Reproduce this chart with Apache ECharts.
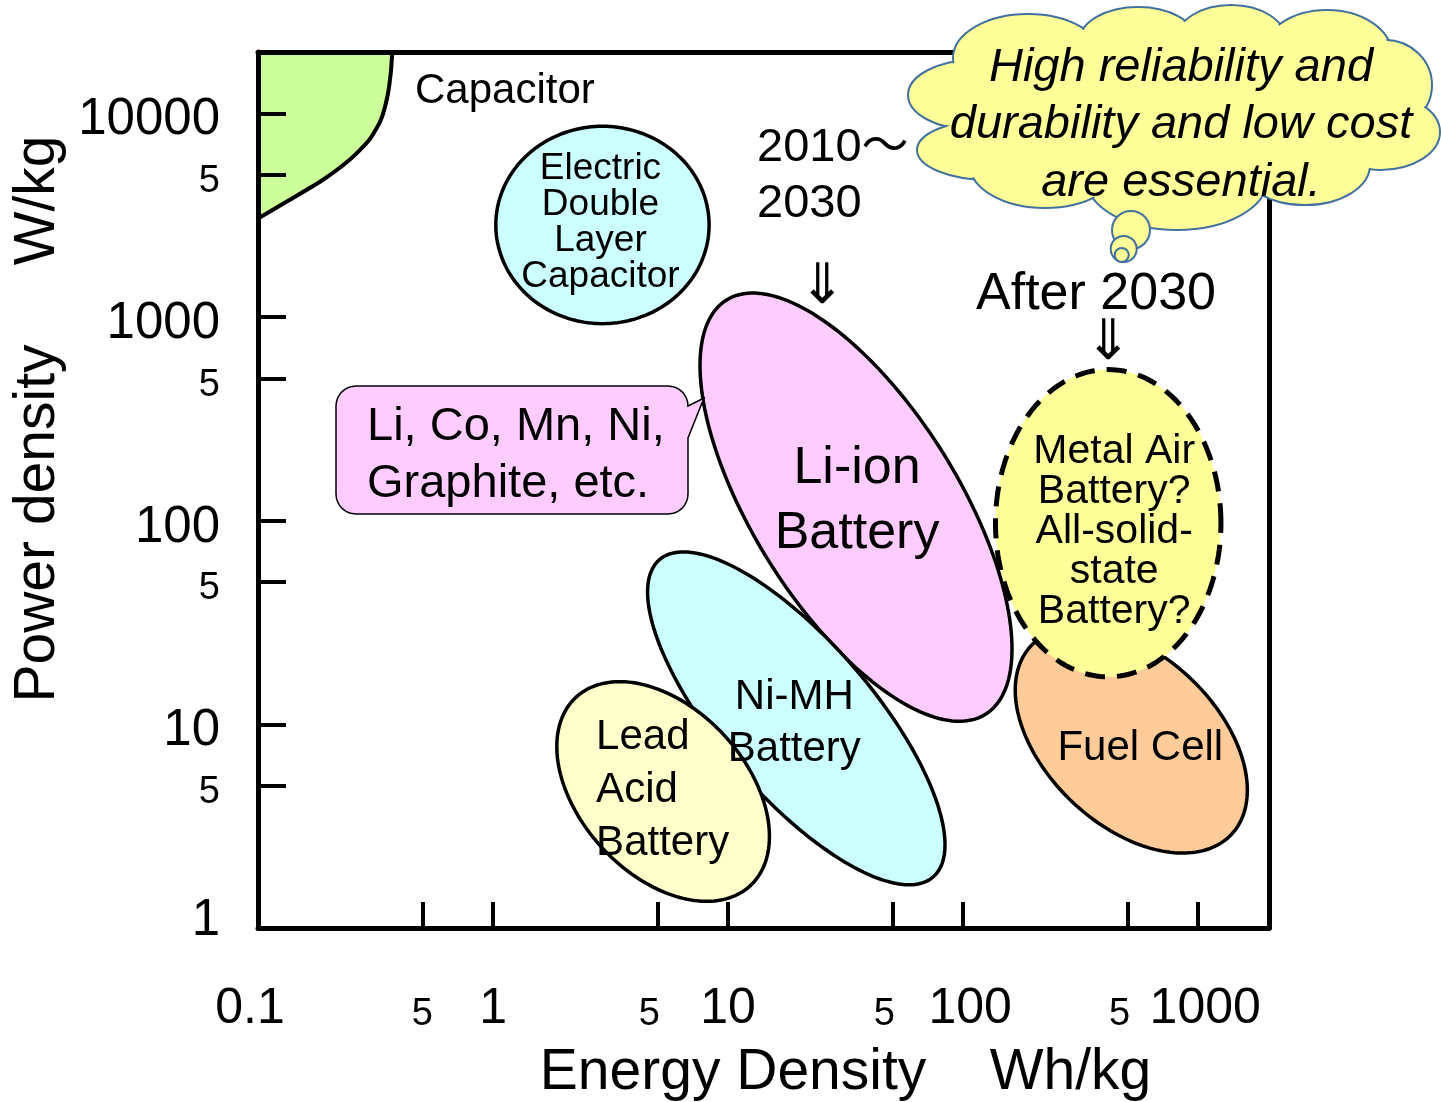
<!DOCTYPE html>
<html>
<head>
<meta charset="utf-8">
<title>Ragone plot</title>
<script src="https://cdn.jsdelivr.net/npm/echarts@6.0.0/dist/echarts.min.js"></script>
<style>
html,body{margin:0;padding:0;background:#ffffff;}
#chart{width:1441px;height:1102px;}
</style>
</head>
<body>
<div id="chart"></div>
<script>
// ---------------- data ----------------
const xTickValues = [0.1, 0.5, 1, 5, 10, 50, 100, 500, 1000];
const yTickValues = [1, 5, 10, 50, 100, 500, 1000, 5000, 10000];
const energyRange = [0.1, 2000];      // Wh/kg
const powerRange = [1, 20000];        // W/kg

const regionLabels = [
  'Electric\nDouble\nLayer\nCapacitor',
  'Li-ion\nBattery',
  'Ni-MH\nBattery',
  'Lead\nAcid\nBattery',
  'Fuel Cell',
  'Metal Air\nBattery?\nAll-solid-\nstate\nBattery?'
];
// centre of each region (energy, power)
const regionCenter = [[2.92, 2830], [35.0, 116.5], [19.5, 10.7], [5.29, 4.68], [519, 8.37], [414, 97.2]];
// end of the first half-axis of each region (energy, power)
const regionAxisEndA = [[8.30, 2830], [124.4, 11.2], [74.5, 1.78], [12.4, 1.61], [1384, 2.88], [1249, 97.2]];
// end of the second half-axis of each region (energy, power)
const regionAxisEndB = [[2.92, 8635], [82.1, 215], [34.5, 18.9], [9.63, 8.83], [922, 16.9], [414, 552]];

// capacitor boundary curve
const capacitorEnergy = [0.1, 0.1355, 0.1878, 0.2439, 0.2967, 0.3327, 0.3549, 0.3669, 0.3727];
const capacitorPower = [3043, 3742, 4691, 5878, 7371, 9240, 12023, 15666, 20000];

const xAxisTitle = 'Energy Density    Wh/kg';
const yAxisTitle = 'Power density     W/kg';
const capacitorText = 'Capacitor';
const periodText1 = '2010～\n2030';
const periodText2 = 'After 2030';
const arrowText = '⇓';
const calloutText = 'Li, Co, Mn, Ni,\nGraphite, etc.';
const cloudText = 'High reliability and\ndurability and low cost\nare essential.';

// ---------------- styles ----------------
const FONT = '"Liberation Sans", Arial, "Noto Sans CJK JP", sans-serif';
const regionStyles = [
  {fill: '#ccffff', lineWidth: 3.5, dash: null, fontSize: 37, lineHeight: 36, align: 'center', dx: -2, dy: -2},
  {fill: '#ffccff', lineWidth: 3.5, dash: null, fontSize: 52, lineHeight: 65, align: 'center', dx: 1, dy: -5.5},
  {fill: '#ccffff', lineWidth: 3.5, dash: null, fontSize: 42, lineHeight: 52, align: 'center', dx: -2, dy: 5},
  {fill: '#ffffcc', lineWidth: 3.5, dash: null, fontSize: 42, lineHeight: 53, align: 'left', dx: -67, dy: -1},
  {fill: '#ffcc99', lineWidth: 3.5, dash: null, fontSize: 42, lineHeight: 50, align: 'center', dx: 9, dy: 8.5},
  {fill: '#ffff99', lineWidth: 5, dash: [20, 12], fontSize: 41, lineHeight: 40, align: 'center', dx: 6, dy: 9}
];

function fmtTick(v) {
  const e = Math.floor(Math.log10(v) + 1e-9);
  const m = Math.round(v / Math.pow(10, e));
  if (m === 5) return v < 1 ? '{s0|5}' : '{s|5}';
  if (v < 1) return '{bl|' + String(Math.round(v * 10) / 10) + '}';
  if (v >= 100) return '{br|' + String(Math.round(v)) + '}';
  return '{b|' + String(Math.round(v)) + '}';
}

function fmtTickY(v) {
  const e = Math.floor(Math.log10(v) + 1e-9);
  const m = Math.round(v / Math.pow(10, e));
  if (m === 5) return '{s|5}';
  if (e === 0) return '{b1|' + String(Math.round(v)) + '}';
  return '{b|' + String(Math.round(v)) + '}';
}

function renderRegion(params, api) {
  const i = api.value(2);
  const st = regionStyles[i];
  const c = api.coord([api.value(0), api.value(1)]);
  const a = api.coord(regionAxisEndA[i]);
  const b = api.coord(regionAxisEndB[i]);
  const ax = a[0] - c[0], ay = a[1] - c[1], bx = b[0] - c[0], by = b[1] - c[1];
  const pts = [];
  const N = 180;
  for (let k = 0; k < N; k++) {
    const t = 2 * Math.PI * k / N;
    pts.push([c[0] + ax * Math.cos(t) + bx * Math.sin(t), c[1] + ay * Math.cos(t) + by * Math.sin(t)]);
  }
  const style = {fill: st.fill, stroke: '#000', lineWidth: st.lineWidth};
  if (st.dash) style.lineDash = st.dash;
  return {
    type: 'group',
    children: [
      {type: 'polygon', z2: i, shape: {points: pts}, style: style},
      {type: 'text', z2: 100, x: c[0] + st.dx, y: c[1] + st.dy,
        style: {text: regionLabels[i], fontSize: st.fontSize, lineHeight: st.lineHeight, fontFamily: FONT,
          fill: '#000', align: st.align, verticalAlign: 'middle'}}
    ]
  };
}

function renderCapacitor(params, api) {
  const curve = capacitorEnergy.map((e, k) => api.coord([e, capacitorPower[k]]));
  const corner = api.coord([energyRange[0], powerRange[1]]);
  return {
    type: 'group',
    children: [
      {type: 'polygon', shape: {points: curve.concat([corner])}, style: {fill: '#ccff99'}},
      {type: 'polyline', shape: {points: curve, smooth: 0.2}, style: {stroke: '#000', lineWidth: 4, fill: null}}
    ]
  };
}

function calloutPoints(x0, y0, x1, y1, r, pTop, pBot, tip) {
  const pts = [];
  function arc(cx, cy, a0, a1) {
    for (let k = 0; k <= 8; k++) {
      const a = a0 + (a1 - a0) * k / 8;
      pts.push([cx + r * Math.cos(a), cy + r * Math.sin(a)]);
    }
  }
  arc(x0 + r, y0 + r, Math.PI, 1.5 * Math.PI);
  arc(x1 - r, y0 + r, 1.5 * Math.PI, 2 * Math.PI);
  pts.push([x1, pTop]); pts.push(tip); pts.push([x1, pBot]);
  arc(x1 - r, y1 - r, 0, 0.5 * Math.PI);
  arc(x0 + r, y1 - r, 0.5 * Math.PI, Math.PI);
  return pts;
}

// ---------------- annotations (layout) ----------------
const cloudBumps = [
  [975, 95, 67, 35], [990, 150, 73, 30], [1028, 58, 75, 44], [1138, 40, 58, 33], [1231, 40, 55, 35],
  [1327, 55, 65, 45], [1385, 85, 47, 45], [1380, 132, 60, 38], [1305, 165, 65, 40], [1177, 180, 90, 50],
  [1045, 165, 75, 43]
];
const bubbles = [[1131, 230, 19], [1123.7, 249, 13], [1121.7, 255, 7]];
const CLOUD_FILL = '#ffff99', CLOUD_STROKE = '#41719c';
const ARROW_FONT = '"Noto Sans CJK JP", "DejaVu Sans", sans-serif';

const graphics = [];
graphics.push({type: 'polygon', z: 5, shape: {points: calloutPoints(336, 386, 688, 514, 20, 406, 438, [704, 398])},
  style: {fill: '#ffccff', stroke: '#000', lineWidth: 1.5}});
graphics.push({type: 'text', z: 6, x: 367, y: 455.5, style: {text: calloutText, fontSize: 47, lineHeight: 57,
  fontFamily: FONT, fill: '#000', align: 'left', verticalAlign: 'middle'}});
graphics.push({type: 'text', z: 6, x: 415, y: 91, style: {text: capacitorText, fontSize: 42, fontFamily: FONT,
  fill: '#000', align: 'left', verticalAlign: 'middle'}});
graphics.push({type: 'text', z: 6, x: 757, y: 176.5, style: {text: periodText1, fontSize: 47, lineHeight: 56,
  fontFamily: FONT, fill: '#000', align: 'left', verticalAlign: 'middle'}});
graphics.push({type: 'text', z: 6, x: 1096, y: 295, style: {text: periodText2, fontSize: 52, fontFamily: FONT,
  fill: '#000', align: 'center', verticalAlign: 'middle'}});
graphics.push({type: 'text', z: 6, x: 822.5, y: 282, style: {text: arrowText, fontSize: 56,
  fontFamily: ARROW_FONT, fill: '#000', align: 'center', verticalAlign: 'middle'}});
graphics.push({type: 'text', z: 6, x: 1108.5, y: 338, style: {text: arrowText, fontSize: 56,
  fontFamily: ARROW_FONT, fill: '#000', align: 'center', verticalAlign: 'middle'}});
cloudBumps.forEach(b => graphics.push({type: 'ellipse', z: 20, shape: {cx: b[0], cy: b[1], rx: b[2], ry: b[3]},
  style: {fill: CLOUD_FILL, stroke: CLOUD_STROKE, lineWidth: 2}}));
cloudBumps.forEach(b => graphics.push({type: 'ellipse', z: 21, shape: {cx: b[0], cy: b[1], rx: b[2] - 1.6, ry: b[3] - 1.6},
  style: {fill: CLOUD_FILL}}));
graphics.push({type: 'ellipse', z: 21, shape: {cx: 1170, cy: 115, rx: 215, ry: 85}, style: {fill: CLOUD_FILL}});
graphics.push({type: 'text', z: 22, x: 1181, y: 125, style: {text: cloudText, fontSize: 47, lineHeight: 57.5,
  fontStyle: 'italic', fontFamily: FONT, fill: '#000', align: 'center', verticalAlign: 'middle'}});
bubbles.forEach((b, k) => graphics.push({type: 'circle', z: 23 + k, shape: {cx: b[0], cy: b[1], r: b[2]},
  style: {fill: CLOUD_FILL, stroke: CLOUD_STROKE, lineWidth: 2}}));

const labelRichX = {
  b: {fontSize: 50, fontFamily: FONT, color: '#000'},
  bl: {fontSize: 50, fontFamily: FONT, color: '#000', padding: [0, 16, 0, 0]},
  br: {fontSize: 50, fontFamily: FONT, color: '#000', padding: [0, 0, 0, 14]},
  s: {fontSize: 38, fontFamily: FONT, color: '#000', padding: [0, 16, 0, 0]},
  s0: {fontSize: 38, fontFamily: FONT, color: '#000'}
};
const labelRichY = {
  b: {fontSize: 51, fontFamily: FONT, color: '#000', padding: [14, 0, 0, 0]},
  b1: {fontSize: 51, fontFamily: FONT, color: '#000', padding: [0, 0, 14, 0]},
  s: {fontSize: 38, fontFamily: FONT, color: '#000', padding: [14, 0, 0, 0]}
};

const option = {
  animation: false,
  backgroundColor: '#ffffff',
  textStyle: {fontFamily: FONT},
  grid: {left: 258, top: 52, width: 1011, height: 876, containLabel: false, outerBoundsMode: 'none'},
  xAxis: [
    {
      type: 'log', logBase: 10, min: energyRange[0], max: energyRange[1], position: 'bottom', z: 3,
      name: xAxisTitle, nameLocation: 'middle', nameGap: 117, nameMoveOverlap: false,
      nameTextStyle: {fontSize: 57, fontFamily: FONT, color: '#000', padding: [0, 0, 0, 164]},
      axisLine: {show: true, onZero: false, lineStyle: {color: '#000', width: 5}},
      axisTick: {show: true, inside: true, length: 26, customValues: xTickValues, lineStyle: {color: '#000', width: 4}},
      axisLabel: {show: true, customValues: xTickValues, margin: 106, verticalAlign: 'bottom', color: '#000',
        formatter: fmtTick, rich: labelRichX},
      splitLine: {show: false}, minorTick: {show: false}
    },
    {
      type: 'log', logBase: 10, min: energyRange[0], max: energyRange[1], position: 'top', z: 3,
      axisLine: {show: true, onZero: false, lineStyle: {color: '#000', width: 5}},
      axisTick: {show: false}, axisLabel: {show: false}, splitLine: {show: false}
    }
  ],
  yAxis: [
    {
      type: 'log', logBase: 10, min: powerRange[0], max: powerRange[1], position: 'left', z: 3,
      name: yAxisTitle, nameLocation: 'middle', nameRotate: 90, nameGap: 191, nameMoveOverlap: false,
      nameTextStyle: {fontSize: 57, fontFamily: FONT, color: '#000', padding: [0, 0, 0, 142]},
      axisLine: {show: true, onZero: false, lineStyle: {color: '#000', width: 5}},
      axisTick: {show: true, inside: true, length: 28, customValues: yTickValues, lineStyle: {color: '#000', width: 4}},
      axisLabel: {show: true, customValues: yTickValues, margin: 38, color: '#000',
        formatter: fmtTickY, rich: labelRichY},
      splitLine: {show: false}, minorTick: {show: false}
    },
    {
      type: 'log', logBase: 10, min: powerRange[0], max: powerRange[1], position: 'right', z: 3,
      axisLine: {show: true, onZero: false, lineStyle: {color: '#000', width: 5}},
      axisTick: {show: false}, axisLabel: {show: false}, splitLine: {show: false}
    }
  ],
  series: [
    {
      type: 'custom', name: 'Capacitor', coordinateSystem: 'cartesian2d', xAxisIndex: 0, yAxisIndex: 0,
      clip: false, silent: true, z: 1,
      encode: {x: 0, y: 1},
      data: [[capacitorEnergy[0], capacitorPower[0]]],
      renderItem: renderCapacitor
    },
    {
      type: 'custom', name: 'Storage devices', coordinateSystem: 'cartesian2d', xAxisIndex: 0, yAxisIndex: 0,
      clip: false, silent: true, z: 2,
      encode: {x: 0, y: 1},
      data: regionCenter.map((c, i) => ({name: regionLabels[i].replace(/\n/g, ' '), value: [c[0], c[1], i]})),
      renderItem: renderRegion
    }
  ],
  graphic: {elements: graphics}
};

const chart = echarts.init(document.getElementById('chart'), null, {renderer: 'canvas'});
chart.setOption(option);
</script>
</body>
</html>
